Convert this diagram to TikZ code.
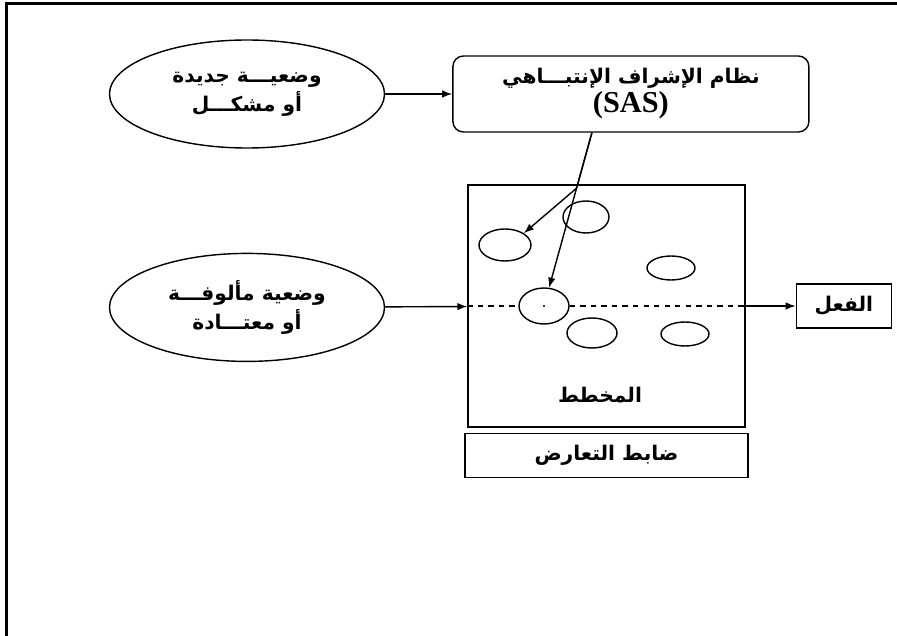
\documentclass[tikz,border=0pt]{standalone}
\usepackage{fontspec}
\setmainfont{Liberation Serif}
\newfontfamily\arabicfont[Script=Arabic]{DejaVu Sans}
\TeXXeTstate=1
\newcommand{\artxt}[1]{{\arabicfont\beginR #1\endR}}
\newcommand{\labsize}{\fontsize{11.5}{16.5}\selectfont}
\usetikzlibrary{arrows.meta,positioning,shapes.geometric,calc}

\begin{document}
\begin{tikzpicture}[
  node distance = 2cm and 1.3cm,
  situ/.style = {draw, ellipse, thick, minimum width=5.5cm, minimum height=2.16cm, align=center, font=\bfseries\labsize},
  sasbox/.style = {draw, thick, rounded corners=6pt, minimum width=7.12cm, minimum height=1.52cm, align=center, font=\bfseries\labsize},
  plain/.style = {draw, thick, minimum height=0.88cm, align=center, font=\bfseries\labsize},
  unit/.style = {draw, ellipse, thick, inner sep=0pt},
  arr/.style = {-{Latex[length=2mm]}, thick}
]
\useasboundingbox (0,0) rectangle (17.94,12.72);
\draw[line width=1.6pt] (0.13,0) -- (0.13,12.65) -- (17.94,12.65);

\node[situ] (new) at (4.94,10.84) {\artxt{وضعيـــة جديدة}\\\artxt{أو مشكـــل}};
\node[sasbox, right=1.34cm of new] (sas) {\artxt{نظام الإشراف الإنتبـــاهي}\\{\LARGE (SAS)}};
\node[situ, below=2.08cm of new] (usual) {\artxt{وضعية مألوفـــة}\\\artxt{أو معتـــادة}};

\node[draw, thick, minimum width=5.54cm, minimum height=4.84cm] (schema) at (12.13,6.6) {};
\node[font=\bfseries\labsize] (schlab) at (12.0,4.82) {\artxt{المخطط}};
\node[plain, minimum width=5.66cm, below=0.1cm of schema] (conflict) {\artxt{ضابط التعارض}};
\node[plain, minimum width=1.9cm, right=1cm of schema] (act) {\artxt{الفعل}};

% units inside the schema
\node[unit, minimum width=1.04cm, minimum height=0.64cm] (u1) at (10.10,7.82) {};
\node[unit, minimum width=0.92cm, minimum height=0.64cm] (u2) at (11.72,8.38) {};
\node[unit, minimum width=0.96cm, minimum height=0.48cm] (u3) at (13.42,7.36) {};
\node[unit, minimum width=1.0cm, minimum height=0.72cm] (u4) at (10.88,6.6) {};
\node[unit, minimum width=1.0cm, minimum height=0.6cm] (u5) at (11.84,6.06) {};
\node[unit, minimum width=0.96cm, minimum height=0.48cm] (u6) at (13.70,6.04) {};
\fill (u4.center) circle (0.7pt);

\coordinate (src) at ([xshift=-0.78cm]sas.south);
\coordinate (split) at ($(src)!0.32!(u4.center)$);

\draw[arr] (new) -- (sas);
\draw[arr] (usual) -- (schema);
\draw[thick, dashed] (schema.west) -- (u4);
\draw[thick, dashed] (u4) -- (schema.east);
\draw[arr] (schema.east) -- (act);
\draw[arr] (src) -- (u4);
\draw[arr] (src) -- (split) -- (u1.north east);
\end{tikzpicture}
\end{document}
